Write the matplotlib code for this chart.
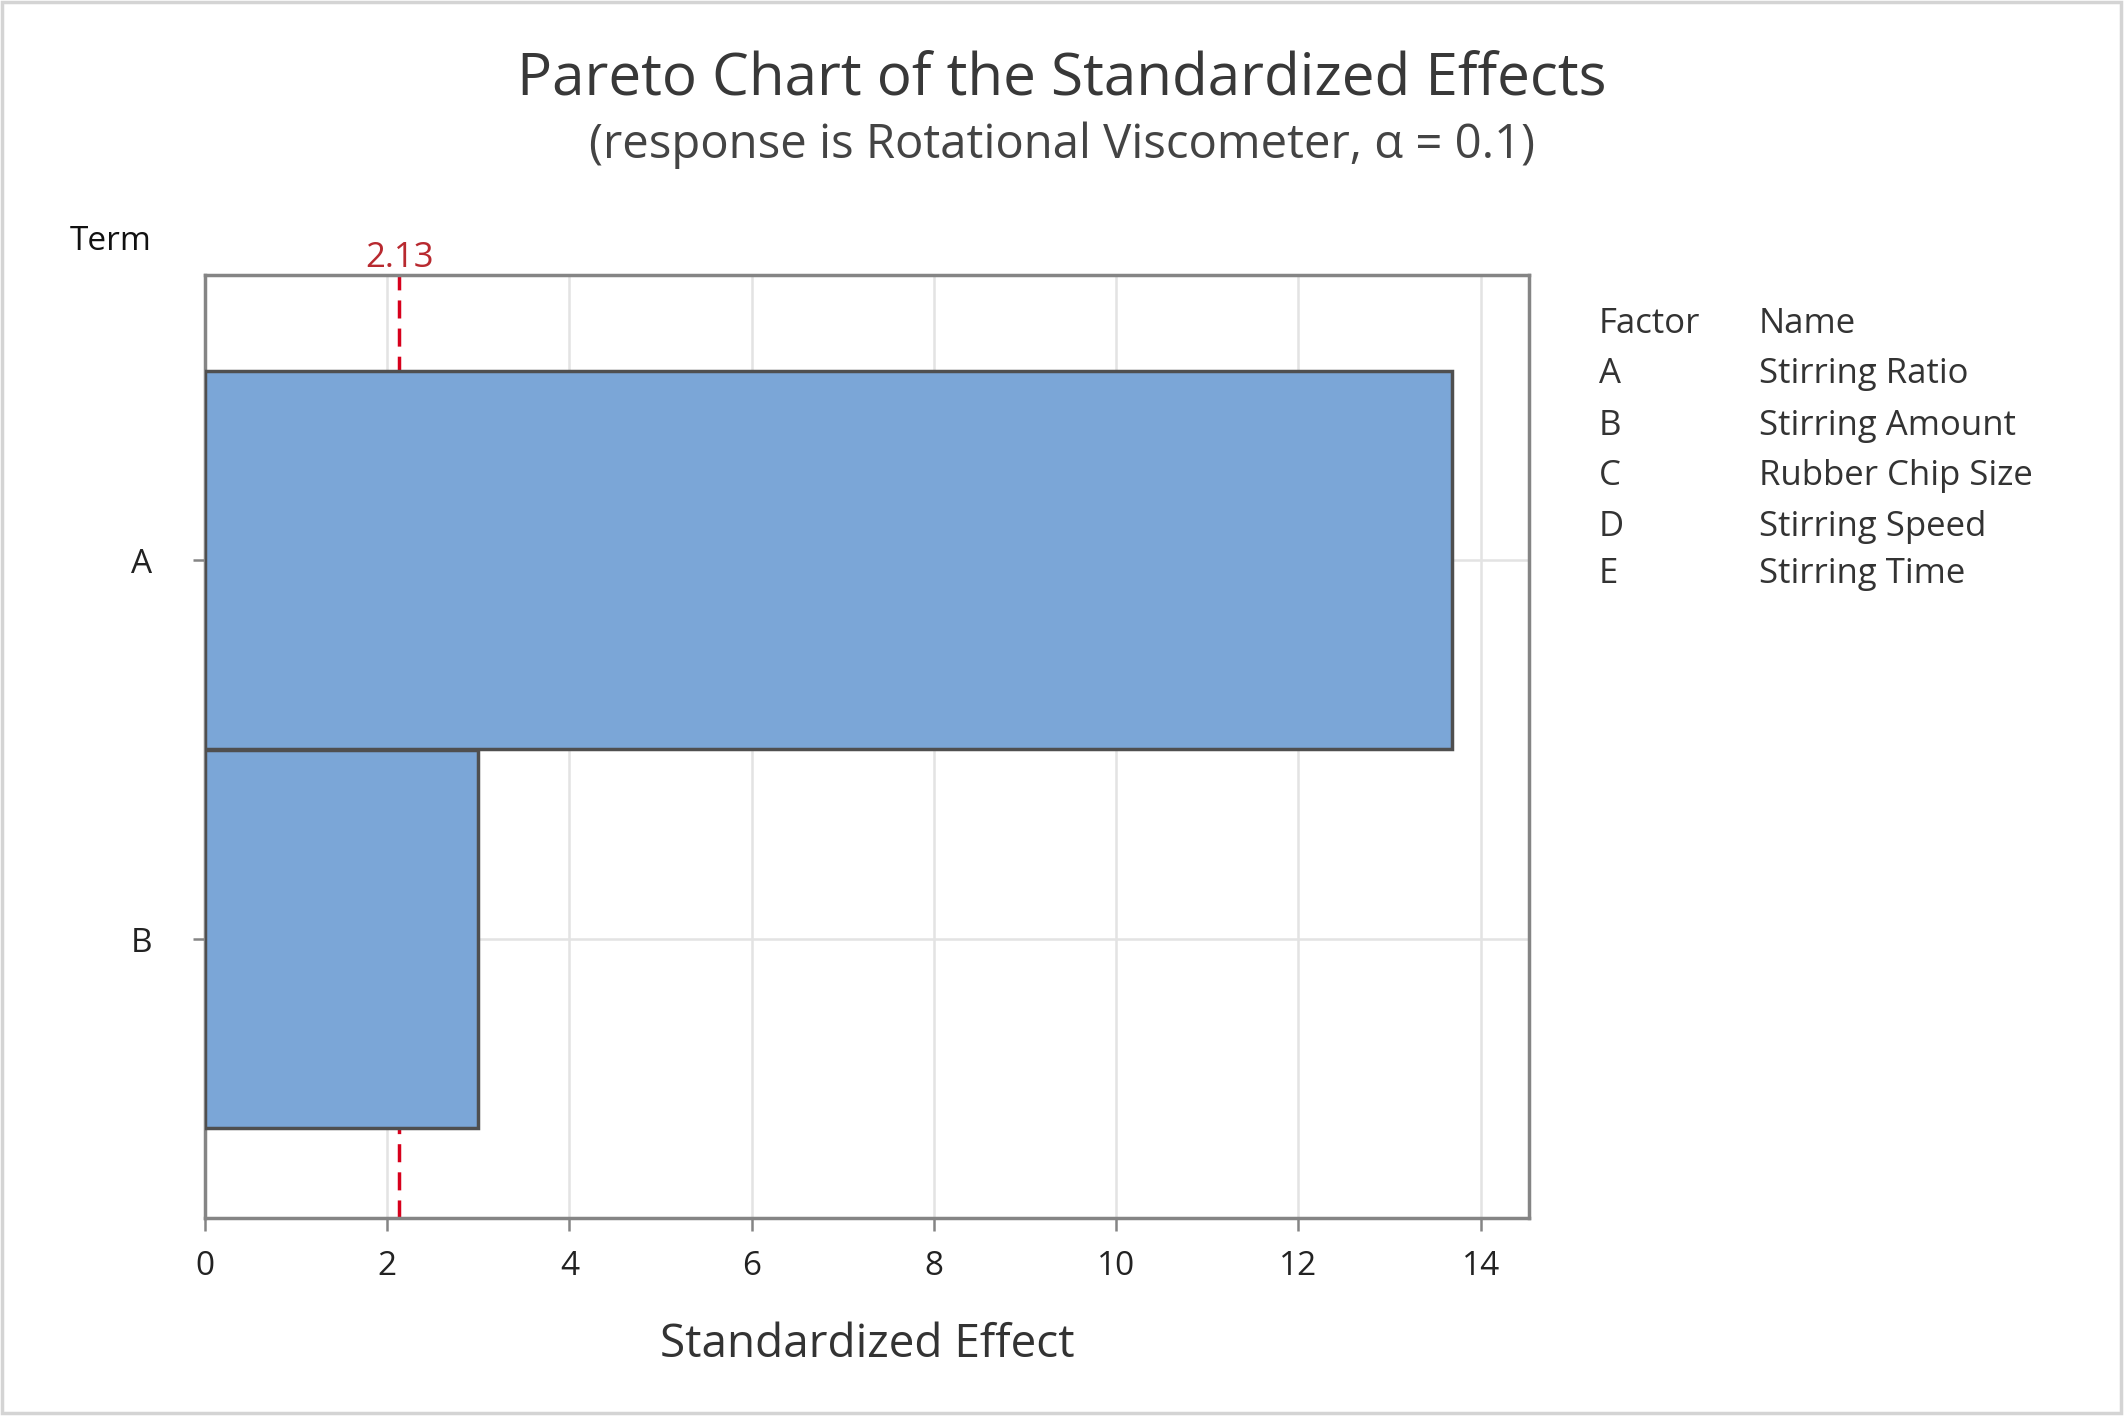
import matplotlib
matplotlib.use("Agg")
import matplotlib.pyplot as plt
from matplotlib.patches import Rectangle

# data
terms = ["B", "A"]
effects = [3.0, 13.68]
critical_value = 2.13
factor_codes = ["A", "B", "C", "D", "E"]
factor_names = ["Stirring Ratio", "Stirring Amount", "Rubber Chip Size", "Stirring Speed", "Stirring Time"]

W, H = 2125, 1419
plt.rcParams['font.family'] = ['Open Sans', 'DejaVu Sans']

fig = plt.figure(figsize=(W / 100, H / 100), dpi=100)
fig.patch.set_facecolor("white")


def px(x, y):
    # pixel position from top-left -> figure fraction
    return x / W, 1 - y / H


# outer border
fig.patches.append(Rectangle((2 / W, 6 / H), 1 - 6 / W, 1 - 8 / H, transform=fig.transFigure,
                             fill=False, edgecolor="#d4d4d4", linewidth=2.5))

left, top, right, bottom = 205, 275, 1529, 1218
ax = fig.add_axes([left / W, 1 - bottom / H, (right - left) / W, (bottom - top) / H])

ax.set_axisbelow(True)
ax.grid(True, color="#e3e3e3", linewidth=1.8)
ypos = list(range(len(terms)))
ax.axvline(critical_value, color="#d7001c", linestyle=(0, (5.2, 2.9)), linewidth=2.5, zorder=1)
ax.barh(ypos, effects, height=0.995, color="#7ba6d7", edgecolor="#4f4f4f", linewidth=2.5, zorder=3)

ax.set_xlim(0, 14.53)
ax.set_ylim(-0.736, 1.752)
ax.set_xticks(range(0, 15, 2))
ax.set_yticks(ypos)
ax.set_yticklabels(terms)

for s in ax.spines.values():
    s.set_color("#858585")
    s.set_linewidth(2.5)
ax.tick_params(axis="both", colors="#858585", width=1.8, length=9, labelsize=24,
               labelcolor="#222222")
ax.tick_params(axis="x", pad=14)
ax.tick_params(axis="y", pad=29)

ax.text(critical_value, 1.0, "2.13", transform=ax.get_xaxis_transform(), color="#b8292f",
        fontsize=25, ha="center", va="bottom")

ax.set_xlabel("Standardized Effect", fontsize=33, color="#333333", labelpad=28)

fig.text(*px(1062, 80), "Pareto Chart of the Standardized Effects", fontsize=42,
         color="#383838", ha="center", va="center")
fig.text(*px(1062, 145), "(response is Rotational Viscometer, \u03b1 = 0.1)", fontsize=34,
         color="#444444", ha="center", va="center")
fig.text(*px(70, 242), "Term", fontsize=24, color="#111111", ha="left", va="center")

# factor / name table
rows_y = [374, 426, 476, 527, 574]
fig.text(*px(1599, 324), "Factor", fontsize=25, color="#333333", va="center")
fig.text(*px(1759, 324), "Name", fontsize=25, color="#333333", va="center")
for code, name, y in zip(factor_codes, factor_names, rows_y):
    fig.text(*px(1599, y), code, fontsize=25, color="#333333", va="center")
    fig.text(*px(1759, y), name, fontsize=25, color="#333333", va="center")

fig.savefig("out.png", dpi=100)
